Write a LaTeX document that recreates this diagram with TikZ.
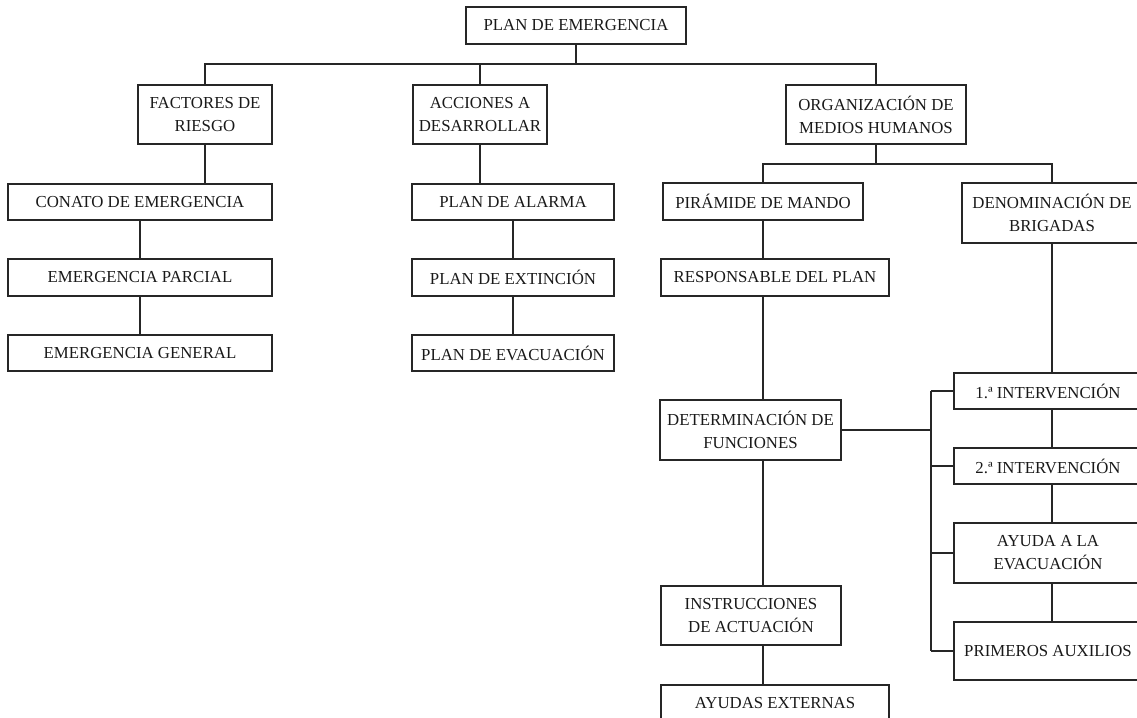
\documentclass[tikz,border=0pt]{standalone}
\usepackage{fontspec}
\setmainfont{Liberation Serif}
\begin{document}
\begin{tikzpicture}[x=1pt,y=-1pt,
  bx/.style={draw=black!85, line width=1.4pt, rectangle, inner sep=0pt, align=center,
    text=black!90, font=\fontsize{16.8}{23}\selectfont},
  ln/.style={draw=black!85, line width=1.4pt}]
\useasboundingbox (0,0) rectangle (1137,717);
\clip (0,0) rectangle (1137,717);
% top level
\node[bx, minimum width=220, minimum height=37] (pe) at (576,25.5) {PLAN DE EMERGENCIA};
\node[bx, minimum width=134, minimum height=59] (fr) at (205,114.5) {FACTORES DE\\RIESGO};
\node[bx, minimum width=134, minimum height=59] (ad) at (480,114.5) {ACCIONES A\\DESARROLLAR};
\node[bx, minimum width=180, minimum height=59] (om) at (876,114.5) {ORGANIZACIÓN DE\\MEDIOS HUMANOS};
% left column
\node[bx, minimum width=264, minimum height=36] (ce) at (140,202) {CONATO DE EMERGENCIA};
\node[bx, minimum width=264, minimum height=37] (ep) at (140,277.5) {EMERGENCIA PARCIAL};
\node[bx, minimum width=264, minimum height=36] (eg) at (140,353) {EMERGENCIA GENERAL};
% middle column
\node[bx, minimum width=202, minimum height=36] (pa) at (513,202) {PLAN DE ALARMA};
\node[bx, minimum width=202, minimum height=37] (px) at (513,277.5) {PLAN DE EXTINCIÓN};
\node[bx, minimum width=202, minimum height=36] (pv) at (513,353) {PLAN DE EVACUACIÓN};
% organizacion column
\node[bx, minimum width=200, minimum height=37] (pm) at (763,201.5) {PIRÁMIDE DE MANDO};
\node[bx, minimum width=228, minimum height=37] (rp) at (775,277.5) {RESPONSABLE DEL PLAN};
\node[bx, minimum width=181, minimum height=60] (df) at (750.5,430) {DETERMINACIÓN DE\\FUNCIONES};
\node[bx, minimum width=180, minimum height=59] (ia) at (751,615.5) {INSTRUCCIONES\\DE ACTUACIÓN};
\node[bx, minimum width=228, minimum height=37] (ae) at (775,703.5) {AYUDAS EXTERNAS};
% brigadas column
\node[bx, minimum width=180, minimum height=60] (db) at (1052,213) {DENOMINACIÓN DE\\BRIGADAS};
\node[bx, minimum width=188, minimum height=36] (i1) at (1048,391) {1.ª INTERVENCIÓN};
\node[bx, minimum width=188, minimum height=36] (i2) at (1048,466) {2.ª INTERVENCIÓN};
\node[bx, minimum width=188, minimum height=60] (ay) at (1048,553) {AYUDA A LA\\EVACUACIÓN};
\node[bx, minimum width=188, minimum height=58] (pr) at (1048,651) {PRIMEROS AUXILIOS};
% bus coordinates
\coordinate (b1) at (576,64);
\coordinate (b2) at (876,164);
\coordinate (vx) at (763,0);
\coordinate (bx3) at (931,0);
\coordinate (vr) at (1052,0);
% connectors
\draw[ln] (pe) -- (b1);
\draw[ln] (fr.north) |- (b1);
\draw[ln] (om.north) |- (b1);
\draw[ln] (ad.north) -- (ad.north |- b1);
\draw[ln] (fr.south) -- (fr.south |- ce.north);
\draw[ln] (ce) -- (ep);
\draw[ln] (ep) -- (eg);
\draw[ln] (ad.south) -- (ad.south |- pa.north);
\draw[ln] (pa) -- (px);
\draw[ln] (px) -- (pv);
\draw[ln] (om) -- (b2);
\draw[ln] (pm.north) |- (b2);
\draw[ln] (db.north) |- (b2);
\draw[ln] (pm) -- (vx |- rp.north);
\draw[ln] (vx |- rp.south) -- (vx |- df.north);
\draw[ln] (vx |- df.south) -- (vx |- ia.north);
\draw[ln] (vx |- ia.south) -- (vx |- ae.north);
\draw[ln] (df.east) -- (df.east -| bx3);
\draw[ln] (bx3 |- i1.west) -- (bx3 |- pr.west);
\draw[ln] (i1.west) -- (i1.west -| bx3);
\draw[ln] (i2.west) -- (i2.west -| bx3);
\draw[ln] (ay.west) -- (ay.west -| bx3);
\draw[ln] (pr.west) -- (pr.west -| bx3);
\draw[ln] (db.south) -- (vr |- i1.north);
\draw[ln] (vr |- i1.south) -- (vr |- i2.north);
\draw[ln] (vr |- i2.south) -- (vr |- ay.north);
\draw[ln] (vr |- ay.south) -- (vr |- pr.north);
\end{tikzpicture}
\end{document}
